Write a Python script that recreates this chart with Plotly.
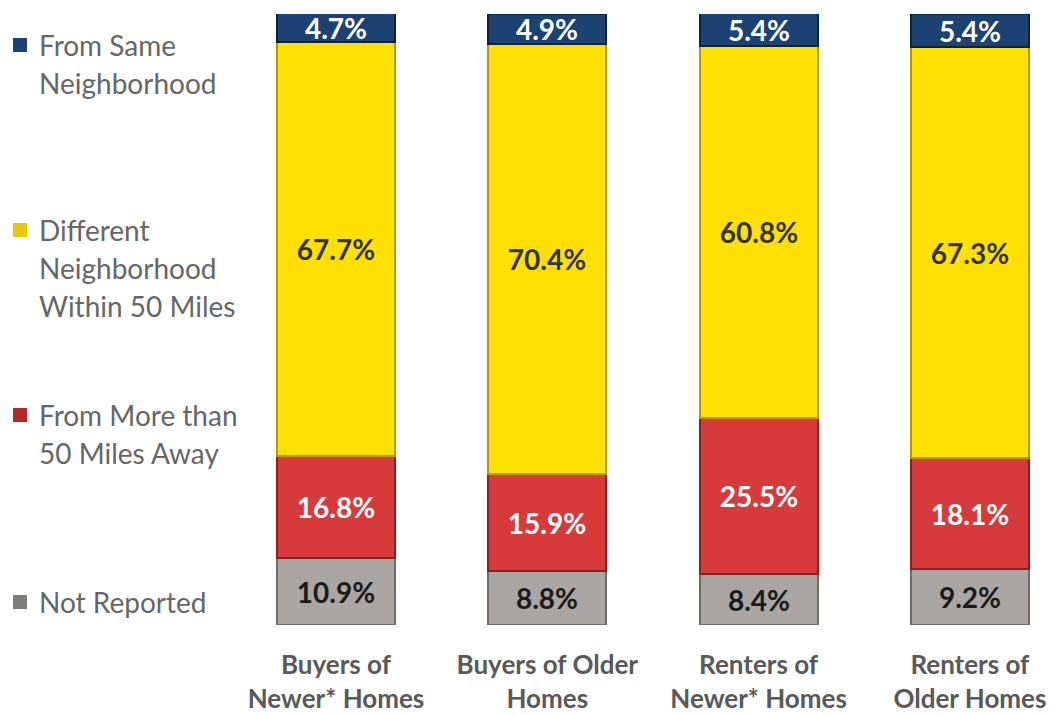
import plotly.graph_objects as go

categories = ["Buyers of<br>Newer* Homes", "Buyers of Older<br>Homes",
              "Renters of<br>Newer* Homes", "Renters of<br>Older Homes"]
not_reported = [10.9, 8.8, 8.4, 9.2]
more_than_50 = [16.8, 15.9, 25.5, 18.1]
diff_neigh = [67.7, 70.4, 60.8, 67.3]
same_neigh = [4.7, 4.9, 5.4, 5.4]

series = [
    ("Not Reported", not_reported, "#A9A6A3", "#6E6B68", "#1a1a1a"),
    ("From More than 50 Miles Away", more_than_50, "#D63A3A", "#8E1F1F", "#FFFFFF"),
    ("Different Neighborhood Within 50 Miles", diff_neigh, "#FFE000", "#B39A00", "#333333"),
    ("From Same Neighborhood", same_neigh, "#1C4173", "#0C2246", "#FFFFFF"),
]

W, H = 1055, 715
L, R, T, B = 250, 0, 14, 90
pw, ph = W - L - R, H - T - B
FONT = "Lato, Open Sans, sans-serif"

xpos = [0, 1, 2, 3]
scale = 211.3
x0 = -(336 - L) / scale
x1 = x0 + pw / scale

fig = go.Figure()
for name, vals, col, edge, tcol in series:
    fig.add_trace(go.Bar(
        x=xpos, y=vals, name=name, width=118 / scale,
        marker=dict(color=col, line=dict(color=edge, width=2)),
        text=[f"{v:.1f}%" for v in vals], textposition="inside",
        insidetextanchor="middle", constraintext="none",
        textfont=dict(family=FONT, size=28, color=tcol, weight="bold"),
        showlegend=False,
    ))

def px(x):
    return (x - L) / pw

def py(y):
    return (H - B - y) / ph

legend_items = [
    (["From Same", "Neighborhood"], 45, "#1C4173"),
    (["Different", "Neighborhood", "Within 50 Miles"], 230, "#E8C800"),
    (["From More than", "50 Miles Away"], 415, "#B02A2A"),
    (["Not Reported"], 602, "#7F7C79"),
]
annotations = []
shapes = []
for lines, ytop, col in legend_items:
    for i, ln in enumerate(lines):
        annotations.append(dict(
            x=px(37), y=py(ytop + i * 38), xref="paper", yref="paper",
            text=ln, showarrow=False, xanchor="left", yanchor="middle",
            font=dict(family=FONT, size=28, color="#666666")))
    shapes.append(dict(type="rect", xref="paper", yref="paper",
                       x0=px(13), x1=px(27), y0=py(ytop + 7), y1=py(ytop - 7),
                       fillcolor=col, line=dict(width=0)))

fig.update_layout(
    width=W, height=H,
    margin=dict(l=L, r=R, t=T, b=B),
    plot_bgcolor="white", paper_bgcolor="white",
    barmode="stack", bargap=0,
    annotations=annotations, shapes=shapes,
)
fig.update_xaxes(range=[x0, x1], tickvals=xpos, ticktext=categories,
                 showgrid=False, zeroline=False, showline=False, ticks="",
                 ticklabelstandoff=22,
                 tickfont=dict(family=FONT, size=26, color="#595959", weight="bold"))
fig.update_yaxes(range=[0, 100], visible=False)

fig.write_html("out.html")
